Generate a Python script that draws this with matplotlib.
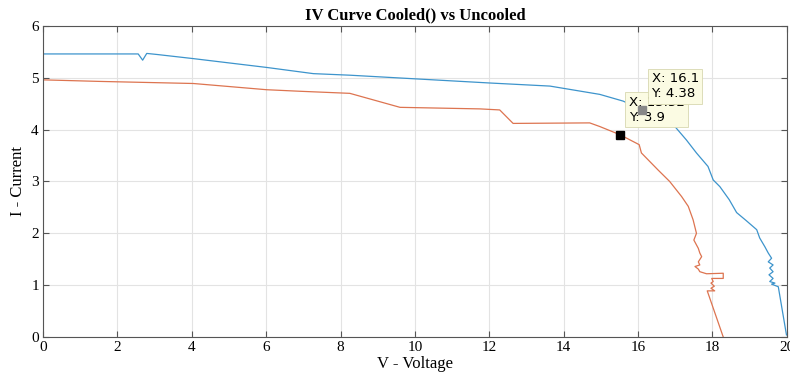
import numpy as np
import matplotlib.pyplot as plt

# uncooled panel (blue)
v_uncooled = [0.0, 1.5, 2.56, 2.68, 2.79, 3.06, 4.04, 6.01, 7.27, 8.25, 10.0, 12.0,
              13.63, 14.97, 15.6, 16.1, 16.5, 16.99, 17.3, 17.57, 17.88, 18.02, 18.2,
              18.45, 18.65, 18.9, 19.19, 19.27, 19.41, 19.5, 19.59, 19.5, 19.63, 19.54,
              19.63, 19.52, 19.63, 19.54, 19.68, 19.59, 19.77, 19.99]
i_uncooled = [5.46, 5.46, 5.46, 5.34, 5.47, 5.45, 5.37, 5.2, 5.08, 5.05, 4.98, 4.9,
              4.84, 4.68, 4.55, 4.38, 4.27, 4.06, 3.8, 3.55, 3.29, 3.03, 2.9,
              2.65, 2.4, 2.25, 2.07, 1.91, 1.74, 1.62, 1.52, 1.45, 1.39, 1.33,
              1.26, 1.2, 1.13, 1.07, 1.04, 1.02, 0.97, 0.04]

# cooled panel (orange)
v_cooled = [0.0, 1.53, 4.04, 6.01, 6.91, 8.25, 9.6, 11.75, 12.28, 12.64, 14.7, 14.97,
            15.52, 16.03, 16.09, 16.54, 16.85, 17.17, 17.35, 17.48, 17.57, 17.5, 17.62,
            17.66, 17.71, 17.62, 17.66, 17.53, 17.62, 17.66, 17.84, 18.29, 18.29, 17.98,
            18.02, 17.96, 18.05, 17.96, 18.06, 17.86, 18.29]
i_cooled = [4.96, 4.93, 4.89, 4.77, 4.74, 4.7, 4.43, 4.4, 4.38, 4.12, 4.13, 4.06,
            3.9, 3.71, 3.55, 3.22, 3.0, 2.71, 2.52, 2.26, 2.0, 1.87, 1.71,
            1.62, 1.55, 1.45, 1.39, 1.36, 1.31, 1.26, 1.22, 1.23, 1.13, 1.13,
            1.07, 1.04, 0.98, 0.94, 0.89, 0.89, 0.0]

tip_x = [15.52, 16.1]
tip_y = [3.9, 4.38]
tip_labels = ["X: 15.52\nY: 3.9", "X: 16.1\nY: 4.38"]

plt.rcParams['font.family'] = ['Liberation Serif', 'DejaVu Serif']

fig = plt.figure(figsize=(7.9, 3.76), dpi=100)
ax = fig.add_axes([0.0544, 0.1037, 0.9416, 0.8273])

ax.plot(v_uncooled, i_uncooled, color='#3d94cc', lw=0.9)
ax.plot(v_cooled, i_cooled, color='#dd7450', lw=0.9)

# data tips
ax.annotate(tip_labels[0], (tip_x[0], tip_y[0]), xytext=(6, 8), textcoords='offset points',
            fontsize=9.5, family='DejaVu Sans', va='bottom', ha='left', zorder=5,
            bbox=dict(boxstyle='square,pad=0.25', fc='#fbfbe3', ec='#d8d8b0', lw=0.6))
ax.plot(tip_x[0], tip_y[0], 's', color='black', ms=6, zorder=6)
ax.plot(tip_x[1], tip_y[1], 's', color='#888888', ms=6, zorder=7)
ax.annotate(tip_labels[1], (tip_x[1], tip_y[1]), xytext=(7, 7), textcoords='offset points',
            fontsize=9.5, family='DejaVu Sans', va='bottom', ha='left', zorder=8,
            bbox=dict(boxstyle='square,pad=0.25', fc='#fbfbe3', ec='#d8d8b0', lw=0.6))

ax.set_xlim(0, 20)
ax.set_ylim(0, 6)
ax.set_xticks(np.arange(0, 21, 2))
ax.set_yticks(np.arange(0, 7, 1))
ax.grid(True, color='#e3e3e3', lw=0.8)
ax.set_axisbelow(True)
ax.tick_params(direction='in', top=True, right=True, labelsize=11, length=4,
               color='#555555', pad=3)
for s in ax.spines.values():
    s.set_color('#555555')
    s.set_linewidth(0.8)

ax.set_title('IV Curve Cooled() vs Uncooled', fontsize=12, fontweight='bold', pad=5)
ax.set_xlabel('V - Voltage', fontsize=12, labelpad=1)
ax.set_ylabel('I - Current', fontsize=12, labelpad=4)

fig.savefig('out.png', dpi=100)
